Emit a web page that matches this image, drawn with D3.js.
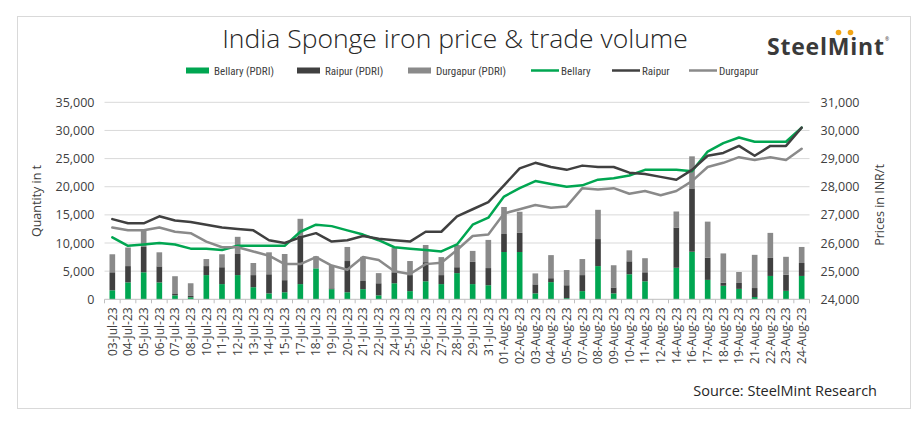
<!DOCTYPE html>
<html><head><meta charset="utf-8">
<script src="https://cdn.jsdelivr.net/npm/d3@7"></script>
<style>
html,body{margin:0;padding:0;background:#fff;}
svg{display:block;font-family:"Open Sans",sans-serif;}
</style></head>
<body><svg id="c" width="919" height="430"></svg>
<script>
const categories = ["03-Jul-23","04-Jul-23","05-Jul-23","06-Jul-23","07-Jul-23","08-Jul-23","10-Jul-23","11-Jul-23","12-Jul-23","13-Jul-23","14-Jul-23","15-Jul-23","17-Jul-23","18-Jul-23","19-Jul-23","20-Jul-23","21-Jul-23","22-Jul-23","24-Jul-23","25-Jul-23","26-Jul-23","27-Jul-23","28-Jul-23","29-Jul-23","31-Jul-23","01-Aug-23","02-Aug-23","03-Aug-23","04-Aug-23","05-Aug-23","07-Aug-23","08-Aug-23","09-Aug-23","10-Aug-23","11-Aug-23","12-Aug-23","14-Aug-23","16-Aug-23","17-Aug-23","18-Aug-23","19-Aug-23","21-Aug-23","22-Aug-23","23-Aug-23","24-Aug-23"];
const bellaryQty = [1600,3000,4800,3000,700,350,4300,2700,4300,2150,1050,1250,2700,5500,1800,1250,1800,700,2850,1450,3200,2700,4650,2700,2500,8400,8400,1050,3050,200,1450,5900,1050,4450,3200,0,5600,8450,3450,2400,1850,400,4150,1500,4150];
const raipurQty = [3200,2900,4500,2850,350,250,1600,3000,3750,2150,3400,2150,8550,0,150,5550,1450,2150,1950,2850,3400,1600,1050,3950,3050,3200,3400,1600,700,2300,2850,4800,1050,2300,1600,0,7150,11250,3950,550,1050,1600,3200,2850,2300];
const durgapurQty = [3200,3300,3100,2500,3050,2250,1250,2300,3050,2150,3900,4650,3050,2150,4100,2500,4300,1800,4300,2500,3050,3200,3950,1950,5000,4800,3750,1950,4100,2700,2850,5200,3950,1950,2500,0,2850,5700,6400,5200,1950,5900,4450,3200,2850];
const bellaryPrice = [26200,25900,25950,26000,25950,25800,25800,25750,25900,25900,25900,25900,26400,26650,26600,26450,26300,26100,25850,25800,25750,25700,25950,26650,26900,27650,27950,28200,28100,28000,28050,28250,28300,28400,28600,28600,28600,28550,29250,29550,29750,29600,29600,29600,30100];
const raipurPrice = [26850,26700,26700,26950,26800,26750,26650,26550,26500,26450,26100,26000,26200,26350,26050,26100,26250,26150,26100,26050,26400,26400,26950,27200,27450,28050,28650,28850,28700,28600,28750,28700,28700,28500,28450,28350,28250,28600,29100,29200,29450,29100,29450,29450,30100];
const durgapurPrice = [26550,26450,26450,26550,26400,26350,26050,25850,25850,25700,25550,25250,25250,25500,25200,25050,25500,25400,25000,24900,25250,25300,25750,26250,26300,27050,27200,27350,27250,27300,27950,27900,27950,27750,27850,27700,27850,28200,28700,28850,29050,28950,29050,28950,29350];
const leftTicks = [0,5000,10000,15000,20000,25000,30000,35000];
const rightTicks = [24000,25000,26000,27000,28000,29000,30000,31000];
const seriesNames = ["Bellary (PDRI)","Raipur (PDRI)","Durgapur (PDRI)","Bellary","Raipur","Durgapur"];

const C_GREEN = "#00a651", C_DARK = "#404040", C_GRAY = "#8a8a8a";
const svg = d3.select("#c");
const L = 104.5, R = 809.5, T = 102.3, B = 299.3;

// frame
svg.append("rect").attr("x",17.5).attr("y",16.5).attr("width",893).attr("height",392)
  .attr("fill","none").attr("stroke","#d9d9d9").attr("stroke-width",1);

const x = d3.scaleBand().domain(categories).range([L,R]).paddingInner(0.64).paddingOuter(0.32);
const yL = d3.scaleLinear().domain([0,35000]).range([B,T]);
const yR = d3.scaleLinear().domain([24000,31000]).range([B,T]);

// gridlines
svg.append("g").selectAll("line").data(leftTicks.filter(d=>d>0)).join("line")
  .attr("x1",L).attr("x2",R).attr("y1",d=>yL(d)).attr("y2",d=>yL(d))
  .attr("stroke","#d9d9d9").attr("stroke-width",1);

// left axis
const gl = svg.append("g").attr("transform",`translate(${L},0)`)
  .call(d3.axisLeft(yL).tickValues(leftTicks).tickSize(0).tickPadding(10).tickFormat(d3.format(",")));
gl.select(".domain").remove();
gl.selectAll("text").attr("font-size",12.5).attr("fill","#404040").attr("font-family","'Open Sans',sans-serif");

// right axis
const gr = svg.append("g").attr("transform",`translate(${R},0)`)
  .call(d3.axisRight(yR).tickValues(rightTicks).tickSize(0).tickPadding(11).tickFormat(d3.format(",")));
gr.select(".domain").remove();
gr.selectAll("text").attr("font-size",12.5).attr("fill","#404040").attr("font-family","'Open Sans',sans-serif");

// stacked bars
const stackData = categories.map((c,i)=>({cat:c, b:bellaryQty[i], r:raipurQty[i], d:durgapurQty[i]}));
const stack = d3.stack().keys(["b","r","d"])(stackData);
const barColors = {b:C_GREEN, r:C_DARK, d:C_GRAY};
svg.append("g").selectAll("g").data(stack).join("g").attr("fill",s=>barColors[s.key])
  .selectAll("rect").data(s=>s).join("rect")
  .attr("x",d=>x(d.data.cat)).attr("width",x.bandwidth())
  .attr("y",d=>yL(d[1])).attr("height",d=>Math.max(0,yL(d[0])-yL(d[1])));

// x axis
const step = x.step();
const gx = svg.append("g");
gx.append("line").attr("x1",L).attr("x2",R).attr("y1",B).attr("y2",B).attr("stroke","#bfbfbf").attr("stroke-width",1);
gx.selectAll("line.tk").data(d3.range(categories.length+1)).join("line").attr("class","tk")
  .attr("x1",i=>L+i*step).attr("x2",i=>L+i*step).attr("y1",B).attr("y2",B+4)
  .attr("stroke","#bfbfbf").attr("stroke-width",1);
gx.selectAll("text").data(categories).join("text")
  .attr("transform",d=>`translate(${x(d)+x.bandwidth()/2+4.3},${B+8}) rotate(-90)`)
  .attr("text-anchor","end").attr("font-size",12).attr("fill","#404040")
  .text(d=>d);

// lines
const line = (arr) => d3.line().x((d,i)=>x(categories[i])+x.bandwidth()/2).y(d=>yR(d))(arr);
[[bellaryPrice,C_GREEN],[raipurPrice,C_DARK],[durgapurPrice,C_GRAY]].forEach(([arr,col])=>{
  svg.append("path").attr("d",line(arr)).attr("fill","none").attr("stroke",col)
    .attr("stroke-width",2.5).attr("stroke-linejoin","round").attr("stroke-linecap","round");
});

// title
svg.append("text").attr("x",455).attr("y",48).attr("text-anchor","middle")
  .attr("font-size",26.5).attr("font-weight",300).attr("fill","#262626")
  .attr("font-family","'Open Sans',sans-serif").text("India Sponge iron price & trade volume");

// logo
const logo = svg.append("g");
logo.append("text").attr("x",767).attr("y",55).attr("font-size",23).attr("font-weight",700)
  .attr("fill","#3a3a3a").attr("font-family","'Open Sans',sans-serif").attr("textLength",117)
  .text("SteelMint");
logo.append("circle").attr("cx",838.5).attr("cy",32.5).attr("r",2.8).attr("fill","#f2a516");
logo.append("circle").attr("cx",850.5).attr("cy",32.5).attr("r",2.8).attr("fill","#f2a516");
logo.append("text").attr("x",885).attr("y",41).attr("font-size",5).attr("fill","#3a3a3a").text("®");

// legend
const leg = svg.append("g").attr("font-size",11).attr("fill","#404040")
  .attr("font-family","'Liberation Sans Narrow','Roboto Condensed','Open Sans',sans-serif");
const legItems = [
  {name:seriesNames[0], col:C_GREEN, type:"rect", x:186},
  {name:seriesNames[1], col:C_DARK, type:"rect", x:297},
  {name:seriesNames[2], col:C_GRAY, type:"rect", x:408},
  {name:seriesNames[3], col:C_GREEN, type:"line", x:531},
  {name:seriesNames[4], col:C_DARK, type:"line", x:612},
  {name:seriesNames[5], col:C_GRAY, type:"line", x:689}
];
legItems.forEach(it=>{
  if(it.type==="rect"){
    leg.append("rect").attr("x",it.x).attr("y",67.5).attr("width",23).attr("height",6).attr("fill",it.col);
  } else {
    leg.append("line").attr("x1",it.x).attr("x2",it.x+28).attr("y1",70.5).attr("y2",70.5)
      .attr("stroke",it.col).attr("stroke-width",2.5);
  }
  leg.append("text").attr("x",it.x+(it.type==="rect"?28:30)).attr("y",74.5).attr("fill","#404040").text(it.name);
});

// axis titles
svg.append("text").attr("transform","translate(41,201) rotate(-90)").attr("text-anchor","middle")
  .attr("font-size",12.5).attr("fill","#404040").text("Quantity in t");
svg.append("text").attr("transform","translate(884,205) rotate(-90)").attr("text-anchor","middle")
  .attr("font-size",12.5).attr("fill","#404040").text("Prices in INR/t");

// source
svg.append("text").attr("x",877).attr("y",396).attr("text-anchor","end")
  .attr("font-size",14.5).attr("fill","#262626").text("Source: SteelMint Research");
</script></body></html>
